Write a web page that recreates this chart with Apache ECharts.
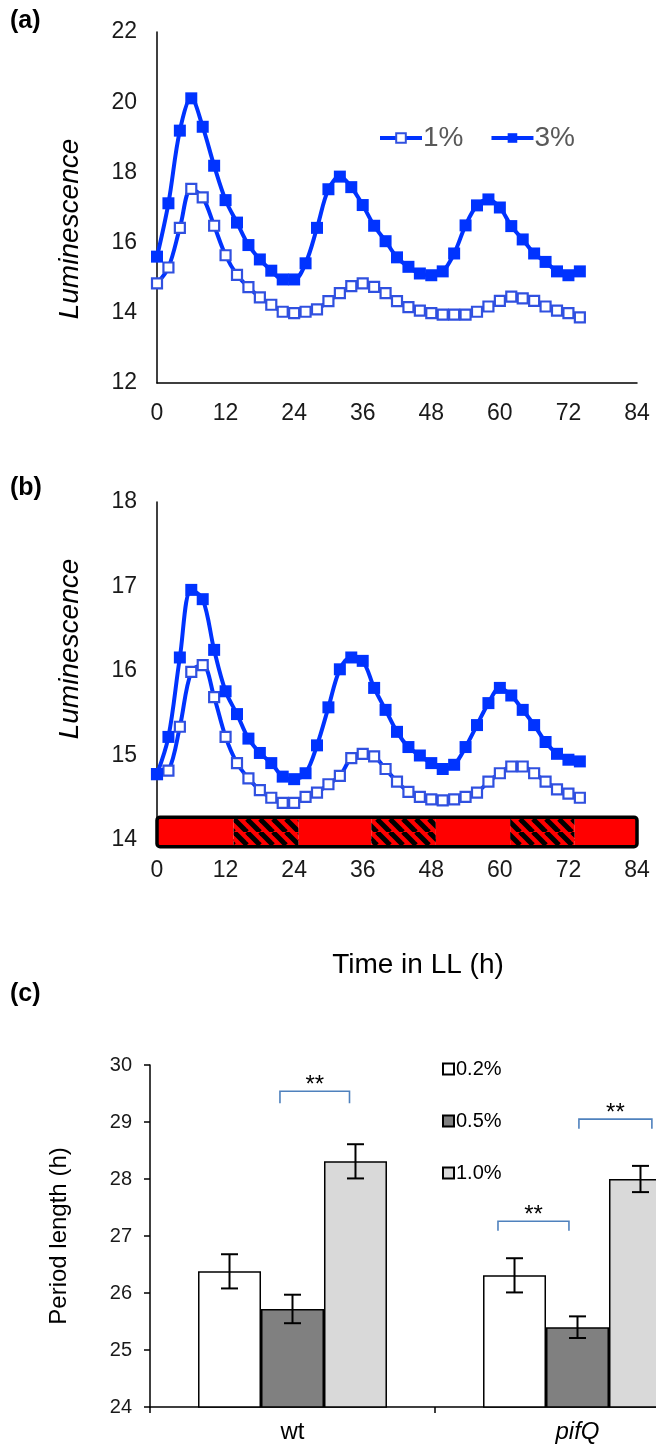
<!DOCTYPE html>
<html lang="en">
<head>
<meta charset="UTF-8">
<title>Luminescence rhythms and period length</title>
<script src="https://cdn.jsdelivr.net/npm/echarts@6/dist/echarts.min.js"></script>
<style>
  html, body { margin: 0; padding: 0; background: #fff; }
  #chart { width: 656px; height: 1450px; }
</style>
</head>
<body>
<div id="chart"></div>
<script>
// sampling times (h in LL)
const HOURS = [0, 2, 4, 6, 8, 10, 12, 14, 16, 18, 20, 22, 24, 26, 28, 30, 32, 34, 36,
               38, 40, 42, 44, 46, 48, 50, 52, 54, 56, 58, 60, 62, 64, 66, 68, 70, 72, 74];

// panel (a)
const A_1PCT = [14.84, 15.29, 16.42, 17.53, 17.29, 16.48, 15.64, 15.08, 14.73, 14.44, 14.23, 14.03, 13.99,
                14.03, 14.10, 14.33, 14.56, 14.76, 14.84, 14.74, 14.56, 14.33, 14.16, 14.06, 13.99, 13.95,
                13.95, 13.95, 14.03, 14.18, 14.34, 14.46, 14.41, 14.34, 14.18, 14.06, 13.99, 13.87];
const A_3PCT = [15.60, 17.12, 19.19, 20.11, 19.30, 18.19, 17.21, 16.57, 15.93, 15.52, 15.20, 14.95, 14.95,
                15.41, 16.42, 17.52, 17.88, 17.58, 17.07, 16.48, 16.04, 15.58, 15.31, 15.12, 15.07, 15.18,
                15.69, 16.49, 17.06, 17.23, 17.00, 16.47, 16.09, 15.69, 15.45, 15.18, 15.07, 15.18];

// panel (b)
const B_1PCT = [14.78, 14.82, 15.34, 15.99, 16.07, 15.69, 15.22, 14.91, 14.73, 14.59, 14.50, 14.44, 14.44,
                14.51, 14.56, 14.66, 14.76, 14.97, 15.02, 14.99, 14.84, 14.69, 14.57, 14.51, 14.48, 14.47,
                14.48, 14.51, 14.56, 14.69, 14.79, 14.87, 14.87, 14.79, 14.69, 14.60, 14.55, 14.50];
const B_3PCT = [14.78, 15.22, 16.16, 16.96, 16.85, 16.25, 15.76, 15.49, 15.20, 15.03, 14.91, 14.75, 14.72,
                14.79, 15.12, 15.57, 16.02, 16.16, 16.12, 15.80, 15.54, 15.28, 15.10, 15.00, 14.91, 14.84,
                14.89, 15.10, 15.36, 15.62, 15.80, 15.71, 15.54, 15.36, 15.16, 15.02, 14.95, 14.93];

// light regime bar under panel (b): subjective day (red) / subjective night (hatched)
const LL_START = [0, 13.4, 24.8, 37.5, 48.8, 61.8, 73.1];
const LL_END   = [13.4, 24.8, 37.5, 48.8, 61.8, 73.1, 84];
const LL_NIGHT = [0, 1, 0, 1, 0, 1, 0];
const LL_TOP = 14.27, LL_BOTTOM = 13.92;

// panel (c)
const GENOTYPES = ['wt', 'pifQ'];
const P_02 = [26.38, 26.31];
const P_05 = [25.72, 25.40];
const P_10 = [28.31, 28.00];
const E_02 = [0.30, 0.30];
const E_05 = [0.25, 0.19];
const E_10 = [0.30, 0.23];
// significance brackets on a 0..2 helper axis: [x0, x1, top, legEnd]
const SIG = [
  [0.456, 0.700, 29.54, 29.33],
  [1.221, 1.470, 27.26, 27.09],
  [1.505, 1.761, 29.05, 28.88]
];

const FONT = 'Liberation Sans, Arial, sans-serif';
const BLUE = '#0033ff';
const OPEN_BLUE = '#3050e0';
const BAR_FRACTION = 0.221;

function pairs(xs, ys) { return xs.map((x, i) => [x, ys[i]]); }

function makeHatch() {
  const s = 13;
  const c = document.createElement('canvas');
  c.width = s; c.height = s;
  const g = c.getContext('2d');
  g.fillStyle = '#ff0000';
  g.fillRect(0, 0, s, s);
  g.strokeStyle = '#000';
  g.lineWidth = 5;
  for (let k = -1; k <= 1; k++) {
    g.beginPath();
    g.moveTo(k * s, 0);
    g.lineTo(k * s + s, s);
    g.stroke();
  }
  return c;
}
const hatch = { image: makeHatch(), repeat: 'repeat' };

const chart = echarts.init(document.getElementById('chart'));

const timeAxis = (grid) => ({
  gridIndex: grid, type: 'value', min: 0, max: 84, interval: 12,
  axisLine: { show: true, lineStyle: { color: '#000', width: 1.5 } },
  axisTick: { show: false }, splitLine: { show: false },
  axisLabel: { fontSize: 23, color: '#1a1a1a', margin: 19, fontFamily: FONT }
});
const lumAxis = (grid, min, max, step) => ({
  gridIndex: grid, type: 'value', min: min, max: max, interval: step,
  axisLine: { show: true, lineStyle: { color: '#000', width: 1.5 } },
  axisTick: { show: false }, splitLine: { show: false },
  axisLabel: { fontSize: 23, color: '#1a1a1a', margin: 20, fontFamily: FONT }
});

function lineSeries(name, grid, data, open) {
  return {
    name: name, type: 'line', xAxisIndex: grid, yAxisIndex: grid,
    data: pairs(HOURS, data), smooth: 0.35,
    symbol: 'rect', symbolSize: open ? 10 : 12,
    lineStyle: { color: BLUE, width: 4 },
    itemStyle: open ? { color: '#ffffff', borderColor: OPEN_BLUE, borderWidth: 2.2 }
                    : { color: BLUE, borderColor: BLUE, borderWidth: 0 },
    z: 3
  };
}

function barSeries(name, data, color) {
  return {
    name: name, type: 'bar', xAxisIndex: 2, yAxisIndex: 2, data: data,
    barWidth: (BAR_FRACTION * 100) + '%', barGap: '0%',
    itemStyle: { color: color, borderColor: '#000', borderWidth: 1.5 }
  };
}

const errData = [];
[[P_02, E_02], [P_05, E_05], [P_10, E_10]].forEach(([m, e], i) => {
  m.forEach((v, g) => errData.push([g, v, e[g], i]));
});

const option = {
  animation: false,
  backgroundColor: '#fff',
  grid: [
    { left: 157, right: 19, top: 32, height: 351, outerBoundsMode: 'none' },
    { left: 157, right: 19, top: 502, height: 338, outerBoundsMode: 'none' },
    { left: 150, width: 570, top: 1065, height: 342, outerBoundsMode: 'none' }
  ],
  xAxis: [
    timeAxis(0),
    timeAxis(1),
    {
      gridIndex: 2, type: 'category', data: GENOTYPES,
      axisLine: { show: true, lineStyle: { color: '#000', width: 1.5 } },
      axisTick: { show: true, length: 6, lineStyle: { color: '#000', width: 1.5 } },
      axisLabel: {
        fontSize: 24, color: '#000', margin: 13, fontFamily: FONT,
        formatter: v => v === 'pifQ' ? '{it|' + v + '}' : v,
        rich: { it: { fontStyle: 'italic', fontSize: 24, fontFamily: FONT, color: '#000' } }
      }
    },
    { gridIndex: 2, type: 'value', min: 0, max: 2, show: false }
  ],
  yAxis: [
    lumAxis(0, 12, 22, 2),
    lumAxis(1, 14, 18, 1),
    {
      gridIndex: 2, type: 'value', min: 24, max: 30, interval: 1,
      axisLine: { show: true, lineStyle: { color: '#000', width: 1.5 } },
      axisTick: { show: true, length: 6, lineStyle: { color: '#000', width: 1.5 } },
      splitLine: { show: false },
      axisLabel: { fontSize: 20, color: '#1a1a1a', margin: 18, fontFamily: FONT }
    }
  ],
  legend: [
    {
      data: ['1%', '3%'], left: 373, top: 119, orient: 'horizontal',
      itemWidth: 42, itemHeight: 12, itemGap: 26,
      lineStyle: { width: 4, color: BLUE },
      textStyle: { fontSize: 28, color: '#595959', fontFamily: FONT, padding: [0, 0, 0, -4] }
    },
    {
      data: ['0.2%', '0.5%', '1.0%'], left: 437, top: 1054, orient: 'vertical',
      icon: 'rect', itemWidth: 11, itemHeight: 11, itemGap: 32,
      textStyle: { fontSize: 20, color: '#000', fontFamily: FONT, lineHeight: 20, padding: [0, 0, 0, -3] }
    }
  ],
  graphic: [
    { type: 'text', x: 10, y: 21, style: { text: '(a)', font: 'bold 25px ' + FONT, fill: '#000', textVerticalAlign: 'middle' } },
    { type: 'text', x: 10, y: 488, style: { text: '(b)', font: 'bold 25px ' + FONT, fill: '#000', textVerticalAlign: 'middle' } },
    { type: 'text', x: 10, y: 994, style: { text: '(c)', font: 'bold 25px ' + FONT, fill: '#000', textVerticalAlign: 'middle' } },
    { type: 'text', x: 70, y: 229, rotation: Math.PI / 2,
      style: { text: 'Luminescence', font: 'italic 28px ' + FONT, fill: '#000', textAlign: 'center', textVerticalAlign: 'middle' } },
    { type: 'text', x: 70, y: 649, rotation: Math.PI / 2,
      style: { text: 'Luminescence', font: 'italic 28px ' + FONT, fill: '#000', textAlign: 'center', textVerticalAlign: 'middle' } },
    { type: 'text', x: 418, y: 965,
      style: { text: 'Time in LL (h)', font: '28px ' + FONT, fill: '#000', textAlign: 'center', textVerticalAlign: 'middle' } },
    { type: 'text', x: 59, y: 1236, rotation: Math.PI / 2,
      style: { text: 'Period length (h)', font: '24px ' + FONT, fill: '#000', textAlign: 'center', textVerticalAlign: 'middle' } }
  ],
  series: [
    lineSeries('1%', 0, A_1PCT, true),
    lineSeries('3%', 0, A_3PCT, false),
    lineSeries('1%', 1, B_1PCT, true),
    lineSeries('3%', 1, B_3PCT, false),
    {
      type: 'custom', xAxisIndex: 1, yAxisIndex: 1, z: 5, clip: false, silent: true,
      data: LL_START.map((s, i) => [s, LL_END[i], LL_NIGHT[i]]),
      renderItem: (params, api) => {
        const p0 = api.coord([api.value(0), LL_TOP]);
        const p1 = api.coord([api.value(1), LL_BOTTOM]);
        return {
          type: 'rect',
          shape: { x: p0[0], y: p0[1], width: p1[0] - p0[0], height: p1[1] - p0[1] },
          style: { fill: api.value(2) ? hatch : '#ff0000' }
        };
      }
    },
    {
      type: 'custom', xAxisIndex: 1, yAxisIndex: 1, z: 6, clip: false, silent: true,
      data: [[LL_START[0], LL_END[LL_END.length - 1]]],
      renderItem: (params, api) => {
        const p0 = api.coord([api.value(0), LL_TOP]);
        const p1 = api.coord([api.value(1), LL_BOTTOM]);
        return {
          type: 'rect',
          shape: { x: p0[0], y: p0[1], width: p1[0] - p0[0], height: p1[1] - p0[1], r: 3 },
          style: { fill: 'none', stroke: '#000', lineWidth: 3.5 }
        };
      }
    },
    barSeries('0.2%', P_02, '#ffffff'),
    barSeries('0.5%', P_05, '#808080'),
    barSeries('1.0%', P_10, '#d9d9d9'),
    {
      type: 'custom', xAxisIndex: 2, yAxisIndex: 2, z: 4, silent: true,
      data: errData,
      renderItem: (params, api) => {
        const m = api.value(1), e = api.value(2), i = api.value(3);
        const band = api.size([1, 0])[0];
        const top = api.coord([api.value(0), m + e]);
        const bot = api.coord([api.value(0), m - e]);
        const x = top[0] + (i - 1) * BAR_FRACTION * band;
        const cap = 8.5;
        const st = { stroke: '#000', lineWidth: 2 };
        return {
          type: 'group', children: [
            { type: 'line', shape: { x1: x, y1: top[1], x2: x, y2: bot[1] }, style: st },
            { type: 'line', shape: { x1: x - cap, y1: top[1], x2: x + cap, y2: top[1] }, style: st },
            { type: 'line', shape: { x1: x - cap, y1: bot[1], x2: x + cap, y2: bot[1] }, style: st }
          ]
        };
      }
    },
    {
      type: 'custom', xAxisIndex: 3, yAxisIndex: 2, z: 4, clip: false, silent: true,
      data: SIG,
      renderItem: (params, api) => {
        const a = api.coord([api.value(0), api.value(3)]);
        const b = api.coord([api.value(0), api.value(2)]);
        const c = api.coord([api.value(1), api.value(2)]);
        const d = api.coord([api.value(1), api.value(3)]);
        return {
          type: 'group', children: [
            { type: 'polyline', shape: { points: [a, b, c, d] },
              style: { stroke: '#4f81bd', lineWidth: 1.6, fill: 'none' } },
            { type: 'text', x: (b[0] + c[0]) / 2, y: b[1] - 6,
              style: { text: '**', font: '24px ' + FONT, fill: '#000', textAlign: 'center', textVerticalAlign: 'middle' } }
          ]
        };
      }
    }
  ]
};

chart.setOption(option);
</script>
</body>
</html>
